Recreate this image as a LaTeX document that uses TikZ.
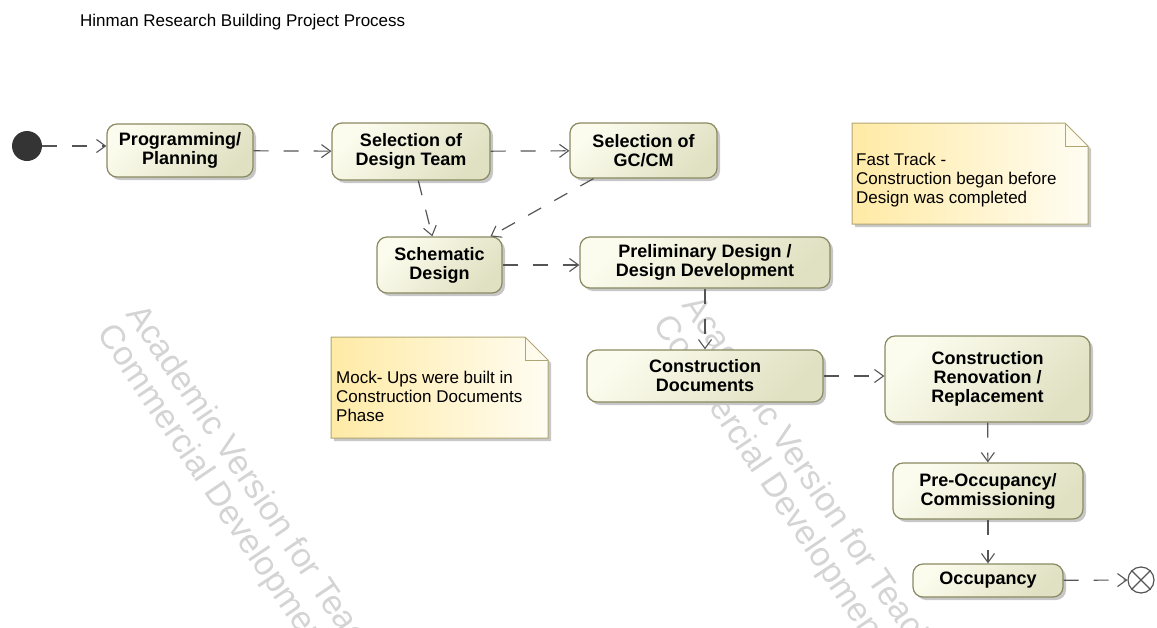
\documentclass[tikz,border=0pt]{standalone}
\usepackage{fontspec}
\setmainfont{Liberation Sans}
\usetikzlibrary{arrows.meta, shadows}
\definecolor{ActLight}{RGB}{252,252,238}
\definecolor{ActDark}{RGB}{224,224,194}
\definecolor{ActBorder}{RGB}{138,138,98}
\definecolor{NoteYellow}{RGB}{255,234,165}
\definecolor{NoteWhite}{RGB}{255,253,242}
\definecolor{NoteBorder}{RGB}{176,166,116}
\definecolor{FlowGray}{RGB}{85,85,85}
\definecolor{InitGray}{RGB}{52,52,52}
\definecolor{MarkGray}{RGB}{212,212,212}

\begin{document}
\begin{tikzpicture}[x=1pt, y=-1pt,
          act/.style={rectangle, rounded corners=10pt, draw=ActBorder, line width=1.2pt,
                      top color=ActLight, bottom color=ActDark, shading angle=45,
                      align=center, inner sep=2pt, font=\fontsize{18}{19}\selectfont\bfseries,
                      drop shadow={shadow xshift=3pt, shadow yshift=-3pt, fill=black!22, opacity=1}},
          flow/.style={draw=FlowGray, line width=1.2pt, dash pattern=on 15pt off 15pt,
                       -{Straight Barb[length=9pt, width=13pt, line width=1.1pt]}},
          notebg/.style={draw=NoteBorder, line width=1pt, left color=NoteYellow, right color=NoteWhite,
                         drop shadow={shadow xshift=3pt, shadow yshift=-3pt, fill=black!22, opacity=1}},
          notefold/.style={draw=NoteBorder, line width=1pt},
          notetext/.style={anchor=west, align=left, inner sep=0pt, font=\fontsize{17}{19}\selectfont},
          wmark/.style={anchor=north west, rotate=-56, align=left, inner sep=0pt,
                        text=MarkGray, font=\fontsize{34}{35}\selectfont}
        ]
        \useasboundingbox (0,0) rectangle (1157,627);
        \clip (0,0) rectangle (1157,627);

        \node[wmark] (wm1) at (146,300) {Academic Version for Teaching Only\\Commercial Development is Strictly Prohibited};
        \node[wmark] (wm2) at (702,291) {Academic Version for Teaching Only\\Commercial Development is Strictly Prohibited};

        \node[font=\fontsize{17}{19}\selectfont, anchor=base west, inner sep=0pt] (title) at (80,26)
              {Hinman Research Building Project Process};

        \draw[notebg] (852,123) -- (1065,123) -- (1088,146) -- (1088,224) -- (852,224) -- cycle;
        \draw[notefold] (1065,123) -- (1065,146) -- (1088,146);
        \node[notetext] (fasttrack) at (856,180) {Fast Track -\\Construction began before\\Design was completed};

        \draw[notebg] (331,337) -- (525,337) -- (548,360) -- (548,438) -- (331,438) -- cycle;
        \draw[notefold] (525,337) -- (525,360) -- (548,360);
        \node[notetext] (mockups) at (336,396) {Mock- Ups were built in\\Construction Documents\\Phase};

        \node[circle, fill=InitGray, minimum size=30pt, inner sep=0pt] (init) at (27,146) {};
        \node[act, minimum width=146pt, minimum height=53pt] (prog)   at (180,150.5)  {Programming/\\Planning};
        \node[act, minimum width=158pt, minimum height=57pt] (seldt)  at (411,151.5)  {Selection of\\Design Team};
        \node[act, minimum width=147pt, minimum height=55pt] (selgc)  at (643.5,150.5){Selection of\\GC/CM};
        \node[act, minimum width=125pt, minimum height=56pt] (sch)    at (439.5,265)  {Schematic\\Design};
        \node[act, minimum width=250pt, minimum height=51pt] (pre)    at (705,262.5)  {Preliminary Design /\\Design Development};
        \node[act, minimum width=236pt, minimum height=52pt] (cdoc)   at (705,376)    {Construction\\Documents};
        \node[act, minimum width=205pt, minimum height=86pt] (cren)   at (987.5,379)  {Construction\\Renovation /\\Replacement};
        \node[act, minimum width=190pt, minimum height=56pt] (preocc) at (988,491)    {Pre-Occupancy/\\Commissioning};
        \node[act, minimum width=150pt, minimum height=33pt] (occ)    at (988,580.5)  {Occupancy};
        \node[circle, draw=FlowGray, line width=1.2pt, fill=white, minimum size=26pt, inner sep=0pt] (final) at (1141,580) {};
        \draw[FlowGray, line width=1.2pt] (final.north west) -- (final.south east)
                                          (final.north east) -- (final.south west);

        \draw[flow] (init)   -- (init -| prog.west);
        \draw[flow] (prog)   -- (seldt);
        \draw[flow] (seldt)  -- (selgc);
        \draw[flow] (seldt)  -- (sch);
        \draw[flow] (selgc)  -- (sch);
        \draw[flow] (sch)    -- (sch -| pre.west);
        \draw[flow] (pre)    -- (cdoc);
        \draw[flow] (cdoc)   -- (cdoc -| cren.west);
        \draw[flow] (cren)   -- (preocc);
        \draw[flow] (preocc) -- (occ);
        \draw[flow] (occ)    -- (final);
      \end{tikzpicture}
\end{document}
